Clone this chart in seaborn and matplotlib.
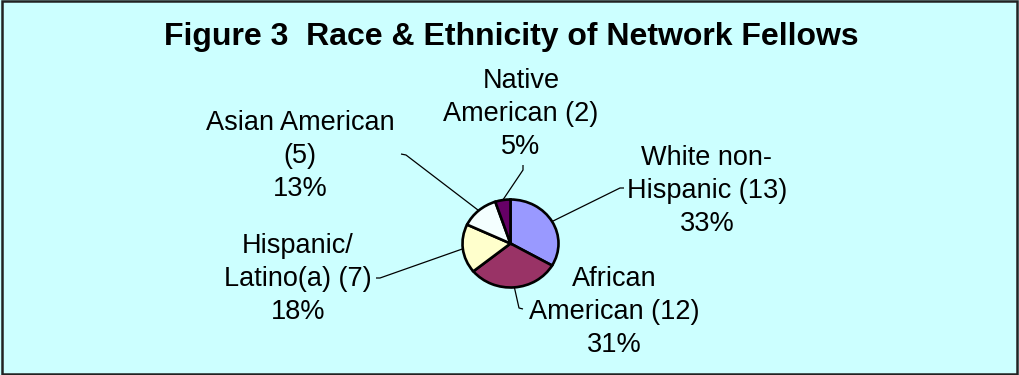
import numpy as np
import matplotlib
matplotlib.use("Agg")
import matplotlib.pyplot as plt
from matplotlib.patches import Rectangle
import seaborn as sns

# --- data -------------------------------------------------------------
groups = ["White non-Hispanic", "African American", "Hispanic/Latino(a)",
          "Asian American", "Native American"]
counts = [13, 12, 7, 5, 2]
label_templates = [
    "White non-\nHispanic ({n})\n{p}%",
    "African\nAmerican ({n})\n{p}%",
    "Hispanic/\nLatino(a) ({n})\n{p}%",
    "Asian American\n({n})\n{p}%",
    "Native\nAmerican ({n})\n{p}%",
]
slice_colors = ["#9999FF", "#993366", "#FFFFCC", "#F4FFFF", "#660066"]
title = "Figure 3  Race & Ethnicity of Network Fellows"

# --- style ------------------------------------------------------------
sns.set_theme(style="white")
plt.rcParams["font.family"] = ["Liberation Sans", "DejaVu Sans"]

W, H = 1019, 375
BG = "#CCFFFF"
fig = plt.figure(figsize=(W / 100, H / 100), dpi=100, facecolor=BG)

# pie geometry (pixel units, y measured from the top)
cx, cy = 510.5, 243.5
rx, ry = 48.0, 44.0

ax_pie = fig.add_axes([(cx - rx) / W, (H - cy - ry) / H, 2 * rx / W, 2 * ry / H])
ax_pie.set_facecolor("none")
wedges, _ = ax_pie.pie(
    counts, colors=slice_colors, startangle=90, counterclock=False,
    radius=1.0, wedgeprops=dict(edgecolor="black", linewidth=1.9,
                                clip_on=False, joinstyle="miter"),
)
ax_pie.set_aspect("auto")
ax_pie.set_xlim(-1, 1)
ax_pie.set_ylim(-1, 1)
ax_pie.axis("off")

# overlay in pixel coordinates for labels, leader lines and title
ax = fig.add_axes([0, 0, 1, 1])
ax.set_xlim(0, W)
ax.set_ylim(H, 0)
ax.axis("off")
ax.set_facecolor("none")

fig.patches.append(Rectangle((0.002, 0.003), 0.996, 0.994, transform=fig.transFigure,
                             fill=False, edgecolor="#222222", linewidth=1.8))

ax.text(511, 45, title, ha="center", va="baseline", fontsize=23,
        fontweight="bold", color="black")

total = sum(counts)
# label block centres (x, y of middle line) and leader-line routing
label_pos = [(707, 189), (614, 310), (298, 277), (300, 154), (521, 112)]
leader_bends = [
    [(620, 188), (624, 188)],
    [(519, 308), (523, 309)],
    [(380, 278), (376, 278)],
    [(406, 155), (401, 154)],
    [(523, 170), (523, 165)],
]
line_gap = 33
fs = 19.5

for w, n, tmpl, (lx, ly), bends in zip(wedges, counts, label_templates,
                                       label_pos, leader_bends):
    pct = int(round(100 * n / total))
    lines = tmpl.format(n=n, p=pct).split("\n")
    for i, s in enumerate(lines):
        yy = ly + (i - 1) * line_gap
        ax.text(lx, yy + 9, s, ha="center", va="baseline", fontsize=fs,
                color="black")
    mid = np.deg2rad((w.theta1 + w.theta2) / 2)
    sx, sy = cx + rx * np.cos(mid), cy - ry * np.sin(mid)
    xs = [sx] + [b[0] for b in bends]
    ys = [sy] + [b[1] for b in bends]
    ax.plot(xs, ys, color="black", linewidth=0.9, solid_capstyle="butt")

fig.savefig("out.png", dpi=100, facecolor=BG)
